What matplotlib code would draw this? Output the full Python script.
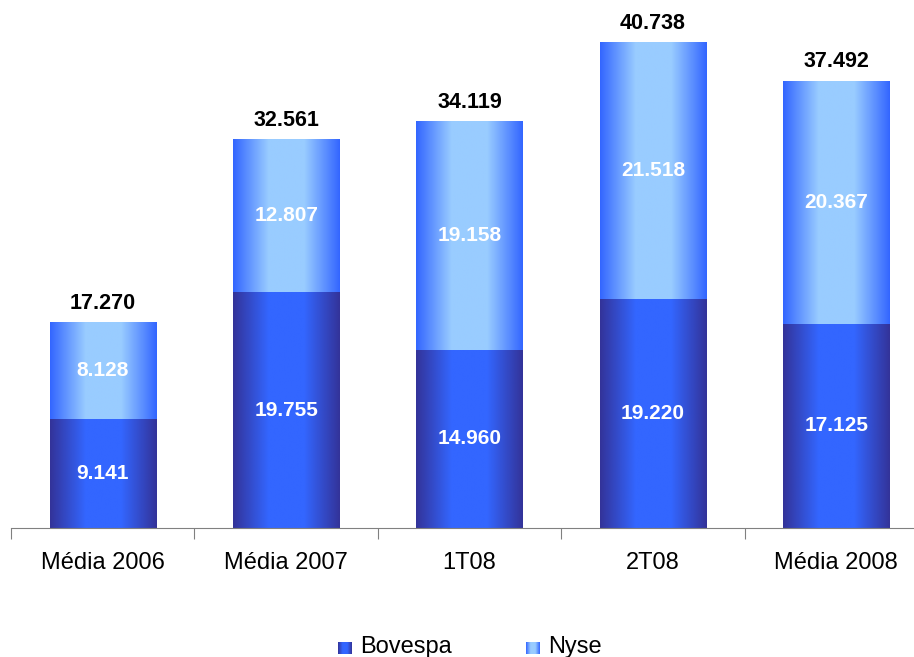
import numpy as np
import matplotlib
matplotlib.use('Agg')
import matplotlib.pyplot as plt
from matplotlib.colors import LinearSegmentedColormap

plt.rcParams['font.family'] = ['Liberation Sans', 'DejaVu Sans']

categories = ['Média 2006', 'Média 2007', '1T08', '2T08', 'Média 2008']
bovespa = [9141, 19755, 14960, 19220, 17125]
nyse = [8128, 12807, 19158, 21518, 20367]
totals = [17270, 32561, 34119, 40738, 37492]

def fmt(v):
    return f'{v:,}'.replace(',', '.')

# horizontal gradients, dark edges / light centre
cmap_bov = LinearSegmentedColormap.from_list('bov', ['#333399', '#3366FF', '#3366FF', '#333399'])
cmap_nyse = LinearSegmentedColormap.from_list('nyse', ['#3366FF', '#99CCFF', '#99CCFF', '#3366FF'])
grad = np.linspace(0, 1, 256).reshape(1, -1)

fig = plt.figure(figsize=(9.14, 6.57), dpi=100)
ax = fig.add_axes([11 / 914, 129 / 657, 917 / 914, 528 / 657])

width = 0.58
x = np.arange(len(categories))
for i in x:
    x0, x1 = i - width / 2, i + width / 2
    ax.imshow(grad, cmap=cmap_bov, extent=[x0, x1, 0, bovespa[i]], aspect='auto', zorder=2)
    ax.imshow(grad, cmap=cmap_nyse, extent=[x0, x1, bovespa[i], bovespa[i] + nyse[i]], aspect='auto', zorder=2)
    ax.text(i, bovespa[i] / 2, fmt(bovespa[i]), ha='center', va='center', color='white',
            fontsize=15, fontweight='bold', zorder=3)
    ax.text(i, bovespa[i] + nyse[i] / 2, fmt(nyse[i]), ha='center', va='center', color='white',
            fontsize=15, fontweight='bold', zorder=3)
    ax.annotate(fmt(totals[i]), (i, totals[i]), xytext=(0, 6), textcoords='offset points',
                ha='center', va='bottom', fontsize=15.5, fontweight='bold', color='black')

ax.set_xlim(-0.5, len(categories) - 0.5)
ax.set_ylim(0, 44260)

for s in ['top', 'right', 'left']:
    ax.spines[s].set_visible(False)
ax.spines['bottom'].set_color('#808080')
ax.set_yticks([])
ax.set_xticks(np.arange(len(categories) + 1) - 0.5)
ax.set_xticklabels([])
ax.set_xticks(x, minor=True)
ax.set_xticklabels(categories, minor=True, fontsize=17)
ax.tick_params(axis='x', which='major', direction='out', length=8, color='#808080')
ax.tick_params(axis='x', which='minor', length=0, pad=17)

# legend with small gradient squares
for sx, cm, label in [(338, cmap_bov, 'Bovespa'), (526, cmap_nyse, 'Nyse')]:
    lax = fig.add_axes([sx / 914, 1 - 654 / 657, 14 / 914, 12 / 657])
    lax.imshow(grad, cmap=cm, aspect='auto')
    lax.axis('off')
    fig.text((sx + 22) / 914, 1 - 647 / 657, label, ha='left', va='center', fontsize=17)

fig.savefig('out.png', dpi=100)
